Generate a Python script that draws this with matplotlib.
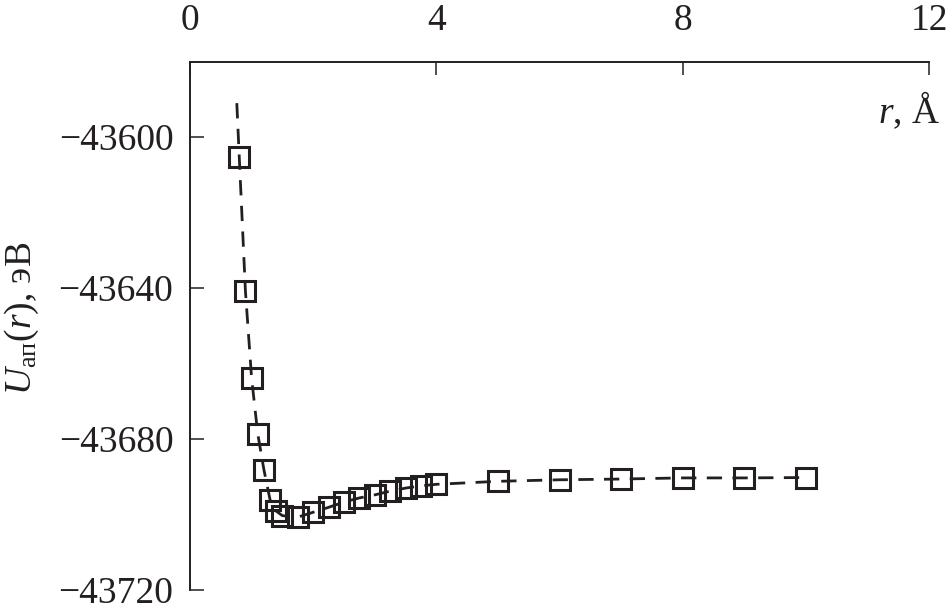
import matplotlib
matplotlib.use("Agg")
import matplotlib.pyplot as plt

# Data
r_vals = [0.8, 0.9, 1.0, 1.1, 1.2, 1.3, 1.4, 1.5, 1.75, 2.0, 2.25, 2.5, 2.75,
          3.0, 3.25, 3.5, 3.75, 4.0, 5.0, 6.0, 7.0, 8.0, 9.0, 10.0]
U_vals = [-43605.3, -43640.8, -43663.8, -43678.6, -43688.1, -43696.1, -43699.1,
          -43700.3, -43700.7, -43699.4, -43698.1, -43696.7, -43695.6, -43694.8,
          -43693.8, -43693.0, -43692.4, -43692.0, -43691.2, -43690.8, -43690.6,
          -43690.3, -43690.3, -43690.2]
# dashed fitted curve (extends slightly above first point)
curve_r = [0.76] + r_vals
curve_U = [-43591.0] + U_vals

x_ticks = [0, 4, 8, 12]
y_ticks = [-43600, -43640, -43680, -43720]

INK = '#231f20'
plt.rcParams['font.family'] = ['Liberation Serif', 'DejaVu Serif']
plt.rcParams['mathtext.fontset'] = 'custom'
plt.rcParams['mathtext.rm'] = 'Liberation Serif'
plt.rcParams['mathtext.it'] = 'Liberation Serif:italic'
plt.rcParams['lines.scale_dashes'] = False

fig = plt.figure(figsize=(9.46, 6.14), dpi=100)
ax = fig.add_axes([190/946, 1-590/614, (929-190)/946, (590-62)/614])

ax.plot(curve_r, curve_U, color=INK, lw=2.0, dashes=(11, 7.5), zorder=2)
ax.plot(r_vals, U_vals, ls='none', marker='s', ms=14, mfc='none',
        mec=INK, mew=2.2, zorder=3)

ax.set_xlim(0, 12)
ax.set_ylim(-43720, -43580.1)
ax.spines['right'].set_visible(False)
ax.spines['bottom'].set_visible(False)
for s in ('left', 'top'):
    ax.spines[s].set_linewidth(1.4)
    ax.spines[s].set_color(INK)

ax.xaxis.tick_top()
ax.set_xticks(x_ticks)
ax.set_xticklabels([str(v) for v in x_ticks])
ax.set_yticks(y_ticks)
ax.set_yticklabels(["\u2212" + f"{abs(v)}" for v in y_ticks])
ax.tick_params(axis='x', direction='in', length=9.5, width=1.1, pad=17,
               labelsize=27, colors=INK)
ax.tick_params(axis='y', direction='in', length=10, width=1.1, pad=12,
               labelsize=27, colors=INK)

fig.text(940/946, 1-123/614, r'$r$, Å', ha='right', va='baseline', fontsize=27,
         color=INK)
fig.text(22/946, 1-318/614, r'$U_{\mathrm{ап}}(r)$, эВ', ha='center', va='center',
         rotation=90, fontsize=27, color=INK)

fig.savefig('out.png', dpi=100)
